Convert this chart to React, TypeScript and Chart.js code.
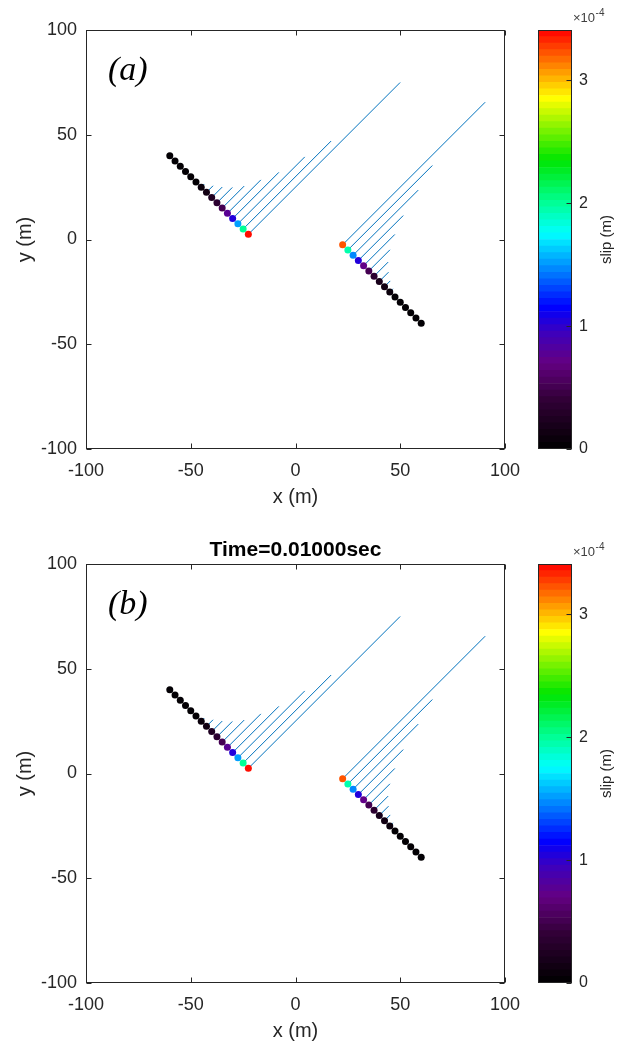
import React, { useEffect, useRef } from "react";
import { Chart, registerables } from "chart.js";
Chart.register(...registerables);

// ---------- data ----------
const xTicks = [-100, -50, 0, 50, 100];
const yTicks = [-100, -50, 0, 50, 100];
const cbarTicks = [0, 1, 2, 3];
const cbarMax = 3.41; // x 1e-4 m
const cbarLevels = 64;

const leftX = [-60, -57.5, -55, -52.5, -50, -47.5, -45, -42.5, -40, -37.5, -35, -32.5, -30, -27.5, -25, -22.5];
const leftY = [40, 37.5, 35, 32.5, 30, 27.5, 25, 22.5, 20, 17.5, 15, 12.5, 10, 7.5, 5, 2.5];
const leftSlip = [0, 0.005, 0.01, 0.015, 0.025, 0.04, 0.07, 0.15, 0.24, 0.35, 0.5, 0.76, 1.05, 1.52, 2.0, 3.45];

const rightX = [22.5, 25, 27.5, 30, 32.5, 35, 37.5, 40, 42.5, 45, 47.5, 50, 52.5, 55, 57.5, 60];
const rightY = [-2.5, -5, -7.5, -10, -12.5, -15, -17.5, -20, -22.5, -25, -27.5, -30, -32.5, -35, -37.5, -40];
const rightSlip = [3.24, 1.92, 1.48, 1.02, 0.71, 0.48, 0.32, 0.21, 0.13, 0.07, 0.04, 0.02, 0.01, 0.005, 0, 0];

const slipScale = 21; // plotted vector length (m) per 1e-4 m of slip

const panelLabels = ["(a)", "(b)"];
const panelTitles = ["", "Time=0.01000sec"];

// ---------- colour map ----------
const cmapPos = [0, 0.4, 0.7, 0.95, 1.15, 1.45, 1.75, 2.0, 2.35, 2.85, 3.1, 3.41];
const cmapRGB = [
  [0, 0, 0], [50, 0, 55], [100, 0, 130], [60, 0, 190], [0, 0, 255], [0, 130, 255],
  [0, 255, 255], [0, 255, 150], [0, 230, 0], [255, 255, 0], [255, 140, 0], [255, 0, 0],
];
function cmapRaw(v: number): string {
  if (v <= cmapPos[0]) return `rgb(${cmapRGB[0].join(",")})`;
  for (let i = 1; i < cmapPos.length; i++) {
    if (v <= cmapPos[i]) {
      const t = (v - cmapPos[i - 1]) / (cmapPos[i] - cmapPos[i - 1]);
      const a = cmapRGB[i - 1], b = cmapRGB[i];
      const c = a.map((ai, k) => Math.round(ai + (b[k] - ai) * t));
      return `rgb(${c.join(",")})`;
    }
  }
  return `rgb(${cmapRGB[cmapRGB.length - 1].join(",")})`;
}
function colorFor(v: number): string {
  let lvl = Math.floor((v / cbarMax) * cbarLevels);
  if (lvl > cbarLevels - 1) lvl = cbarLevels - 1;
  if (lvl < 0) lvl = 0;
  return cmapRaw(((lvl + 0.5) * cbarMax) / cbarLevels);
}

const FONT = "'Liberation Sans', Arial, sans-serif";
const AX = "#262626";
const LINE = "rgb(0,114,189)";

function buildDatasets() {
  const ds: any[] = [];
  const faults = [
    { xs: leftX, ys: leftY, ss: leftSlip },
    { xs: rightX, ys: rightY, ss: rightSlip },
  ];
  faults.forEach((f) => {
    ds.push({
      data: f.xs.map((x, i) => ({ x, y: f.ys[i] })),
      pointBackgroundColor: f.ss.map(colorFor),
      pointBorderColor: f.ss.map(colorFor),
      pointBorderWidth: 0,
      pointRadius: 3.5,
      showLine: false,
      order: 0,
    });
  });
  faults.forEach((f) => {
    f.xs.forEach((x, i) => {
      const s = f.ss[i];
      if (s <= 0) return;
      const y = f.ys[i];
      ds.push({
        data: [
          { x, y },
          { x: x + s * slipScale, y: y + s * slipScale },
        ],
        showLine: true,
        borderColor: LINE,
        borderWidth: 1,
        pointRadius: 0,
        order: 1,
      });
    });
  });
  return ds;
}

function MainPlot({ idx }: { idx: number }) {
  const ref = useRef<HTMLCanvasElement>(null);
  useEffect(() => {
    const label = panelLabels[idx];
    const title = panelTitles[idx];
    const boxPlugin = {
      id: "boxPlugin",
      afterDraw(chart: any) {
        const { ctx, chartArea: a, scales } = chart;
        ctx.save();
        ctx.strokeStyle = AX;
        ctx.lineWidth = 1;
        const L = Math.round(a.left) + 0.5, R = Math.round(a.right) - 0.5;
        const T = Math.round(a.top) + 0.5, B = Math.round(a.bottom) - 0.5;
        ctx.strokeRect(L, T, R - L, B - T);
        const tl = 5;
        ctx.beginPath();
        scales.x.ticks.forEach((t: any) => {
          const px = Math.round(scales.x.getPixelForValue(t.value)) + 0.5;
          ctx.moveTo(px, B); ctx.lineTo(px, B - tl);
          ctx.moveTo(px, T); ctx.lineTo(px, T + tl);
        });
        scales.y.ticks.forEach((t: any) => {
          const py = Math.round(scales.y.getPixelForValue(t.value)) + 0.5;
          ctx.moveTo(L, py); ctx.lineTo(L + tl, py);
          ctx.moveTo(R, py); ctx.lineTo(R - tl, py);
        });
        ctx.stroke();
        ctx.fillStyle = "#000";
        ctx.font = "italic 34px 'Liberation Serif', 'Times New Roman', serif";
        ctx.textBaseline = "alphabetic";
        ctx.textAlign = "left";
        ctx.fillText(label, a.left + 22, a.top + 50);
        ctx.restore();
      },
    };
    const chart = new Chart(ref.current!, {
      type: "scatter",
      data: { datasets: buildDatasets() },
      options: {
        animation: false,
        responsive: false,
        events: [],
        layout: { padding: { left: 0, right: 35, top: title ? 0 : 30, bottom: 0 } },
        plugins: {
          legend: { display: false },
          tooltip: { enabled: false },
          title: {
            display: !!title,
            text: title,
            fullSize: false,
            color: "#000",
            font: { family: FONT, size: 21, weight: "bold", lineHeight: 1.2 },
            padding: { top: 3.4, bottom: 1.4 },
          },
        },
        scales: {
          x: {
            type: "linear",
            min: -100,
            max: 100,
            afterBuildTicks: (s: any) => { s.ticks = xTicks.map((v) => ({ value: v })); },
            afterFit: (s: any) => { s.height = 71; },
            grid: { display: false, drawTicks: false },
            border: { display: false },
            ticks: { font: { family: FONT, size: 18 }, color: AX, padding: 11, maxRotation: 0, callback: (v: any) => String(v) },
            title: { display: true, text: "x (m)", color: AX, font: { family: FONT, size: 20, lineHeight: 1.2 }, padding: { top: 0, bottom: 11 } },
          },
          y: {
            type: "linear",
            min: -100,
            max: 100,
            afterBuildTicks: (s: any) => { s.ticks = yTicks.map((v) => ({ value: v })); },
            afterFit: (s: any) => { s.width = 86; },
            grid: { display: false, drawTicks: false },
            border: { display: false },
            ticks: { font: { family: FONT, size: 18 }, color: AX, padding: 9, callback: (v: any) => String(v) },
            title: { display: true, text: "y (m)", color: AX, font: { family: FONT, size: 20, lineHeight: 1.2 }, padding: { top: 13, bottom: 0 } },
          },
        },
      },
      plugins: [boxPlugin],
    } as any);
    return () => chart.destroy();
  }, [idx]);
  return (
    <canvas
      ref={ref}
      width={540}
      height={520}
      style={{ position: "absolute", left: 0, top: idx * 534, width: 540, height: 520 }}
    />
  );
}

function ColorBar({ idx }: { idx: number }) {
  const ref = useRef<HTMLCanvasElement>(null);
  useEffect(() => {
    const levels = Array.from({ length: cbarLevels }, (_, i) => i);
    const cbPlugin = {
      id: "cbPlugin",
      afterDraw(chart: any) {
        const { ctx, chartArea: a, scales } = chart;
        ctx.save();
        ctx.strokeStyle = AX;
        ctx.lineWidth = 1;
        const L = Math.round(a.left) + 0.5, R = Math.round(a.right) - 0.5;
        const T = Math.round(a.top) + 0.5, B = Math.round(a.bottom) - 0.5;
        ctx.strokeRect(L, T, R - L, B - T);
        ctx.beginPath();
        cbarTicks.forEach((v) => {
          const py = Math.round(scales.y.getPixelForValue(v)) + 0.5;
          ctx.moveTo(R, py); ctx.lineTo(R - 5, py);
        });
        ctx.stroke();
        // axis label
        ctx.fillStyle = AX;
        ctx.font = `15px ${FONT}`;
        ctx.textAlign = "center";
        ctx.textBaseline = "middle";
        ctx.translate(107, (a.top + a.bottom) / 2);
        ctx.rotate(-Math.PI / 2);
        ctx.fillText("slip (m)", 0, 0);
        ctx.restore();
        // exponent
        ctx.save();
        ctx.fillStyle = "#404040";
        ctx.textAlign = "left";
        ctx.textBaseline = "alphabetic";
        ctx.font = `13px ${FONT}`;
        const base = "×10";
        ctx.fillText(base, 73, 22);
        const w = ctx.measureText(base).width;
        ctx.font = `10px ${FONT}`;
        ctx.fillText("-4", 73 + w + 0.5, 16);
        ctx.restore();
      },
    };
    const chart = new Chart(ref.current!, {
      type: "bar",
      data: {
        labels: [""],
        datasets: levels.map((i) => ({
          data: [[(i * cbarMax) / cbarLevels, ((i + 1) * cbarMax) / cbarLevels]],
          backgroundColor: cmapRaw(((i + 0.5) * cbarMax) / cbarLevels),
          borderWidth: 0,
          barPercentage: 1,
          categoryPercentage: 1,
          grouped: false,
        })),
      },
      options: {
        animation: false,
        responsive: false,
        events: [],
        layout: { padding: { left: 38, right: 0, top: 30, bottom: 71 } },
        plugins: { legend: { display: false }, tooltip: { enabled: false } },
        scales: {
          x: { display: false },
          y: {
            position: "right",
            min: 0,
            max: cbarMax,
            afterBuildTicks: (s: any) => { s.ticks = cbarTicks.map((v) => ({ value: v })); },
            afterFit: (s: any) => { s.width = 61; },
            grid: { display: false, drawTicks: false },
            border: { display: false },
            ticks: { font: { family: FONT, size: 16 }, color: AX, padding: 7, callback: (v: any) => String(v) },
          },
        },
      },
      plugins: [cbPlugin],
    } as any);
    return () => chart.destroy();
  }, [idx]);
  return (
    <canvas
      ref={ref}
      width={133}
      height={520}
      style={{ position: "absolute", left: 500, top: idx * 534, width: 133, height: 520 }}
    />
  );
}

export default function App() {
  return (
    <div style={{ position: "absolute", left: 0, top: 0, width: 633, height: 1048, background: "#fff" }}>
      <MainPlot idx={0} />
      <ColorBar idx={0} />
      <MainPlot idx={1} />
      <ColorBar idx={1} />
    </div>
  );
}
